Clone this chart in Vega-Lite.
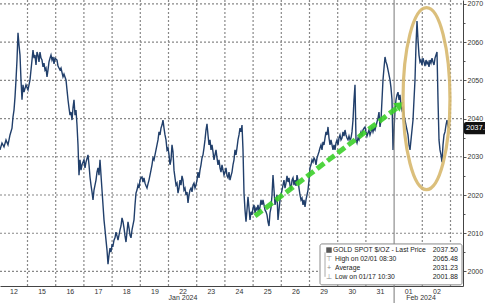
{
"$schema": "https://vega.github.io/schema/vega-lite/v6.json",
"width": 463, "height": 286, "autosize": "none", "padding": {"left": 0, "top": 0, "right": 22, "bottom": 17},
"background": "white",
"config": {"view": {"stroke": null}, "font": "Liberation Sans"},
"resolve": {"axis": {"x": "independent", "y": "independent"}},
"datasets": {
"price": [
{"b":0,"p":2031.8},{"b":2,"p":2033.6},{"b":4,"p":2032.6},{"b":6,"p":2034.4},{"b":8,"p":2033.1},{"b":10,"p":2035.7},{"b":12,"p":2037.5},{"b":13,"p":2040.4},{"b":14,"p":2042.2},{"b":15,"p":2045.6},{"b":16,"p":2050.1},{"b":17,"p":2055.3},{"b":18,"p":2062.4},{"b":19,"p":2059.2},{"b":20,"p":2056.6},{"b":21,"p":2050.1},{"b":22,"p":2044.9},{"b":23,"p":2048.8},{"b":24,"p":2046.9},{"b":26,"p":2048.8},{"b":28,"p":2047.5},{"b":30,"p":2050.1},{"b":31,"p":2052.7},{"b":32,"p":2055.3},{"b":33,"p":2057.9},{"b":34,"p":2055.8},{"b":35,"p":2056.6},{"b":36,"p":2054.0},{"b":37,"p":2057.4},{"b":38,"p":2056.6},{"b":39,"p":2054.8},{"b":40,"p":2057.4},{"b":41,"p":2055.8},{"b":42,"p":2055.3},{"b":43,"p":2053.5},{"b":44,"p":2054.5},{"b":45,"p":2052.7},{"b":46,"p":2053.2},{"b":47,"p":2050.9},{"b":48,"p":2052.7},{"b":49,"p":2054.8},{"b":50,"p":2055.8},{"b":51,"p":2056.6},{"b":52,"p":2055.3},{"b":53,"p":2056.1},{"b":54,"p":2054.3},{"b":55,"p":2055.8},{"b":57,"p":2055.3},{"b":58,"p":2053.7},{"b":60,"p":2052.7},{"b":61,"p":2053.2},{"b":63,"p":2050.9},{"b":64,"p":2051.6},{"b":66,"p":2050.1},{"b":67,"p":2047.5},{"b":68,"p":2044.9},{"b":69,"p":2042.8},{"b":70,"p":2040.9},{"b":71,"p":2041.7},{"b":72,"p":2039.6},{"b":73,"p":2042.8},{"b":74,"p":2044.9},{"b":75,"p":2040.9},{"b":76,"p":2042.2},{"b":77,"p":2038.3},{"b":78,"p":2033.1},{"b":79,"p":2025.2},{"b":80,"p":2029.2},{"b":81,"p":2026.5},{"b":82,"p":2027.9},{"b":84,"p":2029.2},{"b":85,"p":2027.1},{"b":86,"p":2028.6},{"b":88,"p":2030.5},{"b":89,"p":2027.9},{"b":90,"p":2024.7},{"b":91,"p":2022.6},{"b":92,"p":2020.8},{"b":93,"p":2018.7},{"b":94,"p":2021.3},{"b":95,"p":2022.6},{"b":96,"p":2023.9},{"b":97,"p":2026.0},{"b":98,"p":2027.1},{"b":99,"p":2025.2},{"b":100,"p":2029.2},{"b":101,"p":2025.2},{"b":102,"p":2021.3},{"b":103,"p":2017.4},{"b":104,"p":2013.5},{"b":105,"p":2010.9},{"b":106,"p":2008.2},{"b":107,"p":2005.6},{"b":108,"p":2001.9},{"b":109,"p":2004.3},{"b":110,"p":2006.1},{"b":111,"p":2005.1},{"b":112,"p":2006.9},{"b":113,"p":2006.7},{"b":114,"p":2008.2},{"b":115,"p":2008.8},{"b":116,"p":2010.3},{"b":117,"p":2009.3},{"b":118,"p":2008.2},{"b":119,"p":2009.5},{"b":120,"p":2010.9},{"b":121,"p":2011.9},{"b":122,"p":2014.0},{"b":123,"p":2013.0},{"b":124,"p":2011.4},{"b":125,"p":2009.3},{"b":126,"p":2007.7},{"b":127,"p":2010.3},{"b":128,"p":2013.0},{"b":129,"p":2011.4},{"b":130,"p":2009.5},{"b":131,"p":2008.8},{"b":132,"p":2010.9},{"b":133,"p":2012.2},{"b":134,"p":2013.5},{"b":135,"p":2017.4},{"b":136,"p":2020.5},{"b":137,"p":2021.3},{"b":138,"p":2022.6},{"b":139,"p":2021.8},{"b":140,"p":2023.9},{"b":141,"p":2024.5},{"b":142,"p":2024.7},{"b":143,"p":2023.4},{"b":144,"p":2024.5},{"b":145,"p":2023.1},{"b":146,"p":2022.4},{"b":147,"p":2021.8},{"b":148,"p":2022.9},{"b":149,"p":2023.9},{"b":150,"p":2025.2},{"b":151,"p":2026.5},{"b":152,"p":2027.9},{"b":153,"p":2029.7},{"b":154,"p":2029.2},{"b":155,"p":2030.5},{"b":156,"p":2031.8},{"b":157,"p":2033.1},{"b":158,"p":2034.4},{"b":159,"p":2036.5},{"b":160,"p":2035.7},{"b":161,"p":2037.5},{"b":162,"p":2038.3},{"b":163,"p":2039.6},{"b":164,"p":2037.5},{"b":165,"p":2035.7},{"b":166,"p":2034.4},{"b":167,"p":2031.8},{"b":168,"p":2032.3},{"b":169,"p":2030.5},{"b":170,"p":2027.9},{"b":171,"p":2029.2},{"b":172,"p":2033.1},{"b":173,"p":2031.3},{"b":174,"p":2026.5},{"b":175,"p":2024.5},{"b":176,"p":2022.6},{"b":177,"p":2023.1},{"b":178,"p":2020.5},{"b":179,"p":2021.8},{"b":180,"p":2023.9},{"b":181,"p":2022.6},{"b":182,"p":2025.0},{"b":183,"p":2023.9},{"b":184,"p":2021.3},{"b":185,"p":2021.8},{"b":186,"p":2020.0},{"b":187,"p":2020.8},{"b":188,"p":2017.9},{"b":189,"p":2020.0},{"b":190,"p":2021.3},{"b":191,"p":2021.8},{"b":192,"p":2020.8},{"b":193,"p":2022.6},{"b":194,"p":2023.1},{"b":195,"p":2021.8},{"b":196,"p":2022.6},{"b":197,"p":2023.9},{"b":198,"p":2026.0},{"b":199,"p":2024.5},{"b":200,"p":2026.5},{"b":201,"p":2027.9},{"b":202,"p":2029.7},{"b":203,"p":2030.5},{"b":204,"p":2032.3},{"b":205,"p":2034.4},{"b":206,"p":2037.0},{"b":207,"p":2038.6},{"b":208,"p":2035.7},{"b":209,"p":2033.1},{"b":210,"p":2034.4},{"b":211,"p":2031.8},{"b":212,"p":2033.1},{"b":213,"p":2031.3},{"b":214,"p":2029.2},{"b":215,"p":2030.5},{"b":216,"p":2031.8},{"b":217,"p":2029.7},{"b":218,"p":2027.9},{"b":219,"p":2029.2},{"b":220,"p":2027.1},{"b":221,"p":2026.0},{"b":222,"p":2027.9},{"b":223,"p":2026.5},{"b":224,"p":2025.2},{"b":225,"p":2026.0},{"b":226,"p":2027.1},{"b":227,"p":2025.0},{"b":228,"p":2024.5},{"b":229,"p":2026.0},{"b":230,"p":2023.9},{"b":231,"p":2025.0},{"b":232,"p":2026.0},{"b":233,"p":2027.9},{"b":234,"p":2029.2},{"b":235,"p":2031.8},{"b":236,"p":2030.5},{"b":237,"p":2032.3},{"b":238,"p":2034.4},{"b":239,"p":2035.7},{"b":240,"p":2037.5},{"b":241,"p":2036.5},{"b":242,"p":2038.3},{"b":243,"p":2031.8},{"b":244,"p":2020.5},{"b":245,"p":2016.1},{"b":246,"p":2013.0},{"b":247,"p":2016.1},{"b":248,"p":2019.5},{"b":249,"p":2016.6},{"b":250,"p":2013.5},{"b":251,"p":2015.6},{"b":252,"p":2014.8},{"b":253,"p":2016.6},{"b":254,"p":2017.4},{"b":255,"p":2015.3},{"b":256,"p":2016.6},{"b":257,"p":2016.1},{"b":258,"p":2017.4},{"b":259,"p":2015.6},{"b":260,"p":2016.9},{"b":261,"p":2018.7},{"b":262,"p":2017.4},{"b":263,"p":2018.7},{"b":264,"p":2017.4},{"b":265,"p":2016.1},{"b":266,"p":2015.6},{"b":267,"p":2014.8},{"b":268,"p":2013.0},{"b":269,"p":2011.9},{"b":270,"p":2015.3},{"b":271,"p":2016.6},{"b":272,"p":2020.0},{"b":273,"p":2025.2},{"b":274,"p":2021.3},{"b":275,"p":2017.4},{"b":276,"p":2018.7},{"b":277,"p":2020.0},{"b":278,"p":2013.5},{"b":279,"p":2016.1},{"b":280,"p":2018.7},{"b":281,"p":2020.0},{"b":282,"p":2021.3},{"b":283,"p":2022.6},{"b":284,"p":2023.9},{"b":285,"p":2021.8},{"b":286,"p":2023.1},{"b":287,"p":2025.0},{"b":288,"p":2023.4},{"b":289,"p":2024.5},{"b":290,"p":2022.6},{"b":291,"p":2021.3},{"b":292,"p":2023.9},{"b":293,"p":2024.5},{"b":294,"p":2022.6},{"b":295,"p":2023.9},{"b":296,"p":2022.4},{"b":297,"p":2025.2},{"b":298,"p":2023.9},{"b":299,"p":2021.8},{"b":300,"p":2020.0},{"b":301,"p":2018.7},{"b":302,"p":2019.2},{"b":303,"p":2017.4},{"b":304,"p":2018.7},{"b":305,"p":2016.9},{"b":306,"p":2018.7},{"b":307,"p":2020.0},{"b":308,"p":2021.3},{"b":309,"p":2023.9},{"b":310,"p":2027.1},{"b":311,"p":2027.9},{"b":312,"p":2029.2},{"b":313,"p":2028.6},{"b":314,"p":2029.7},{"b":315,"p":2029.2},{"b":316,"p":2027.9},{"b":317,"p":2029.7},{"b":318,"p":2030.5},{"b":319,"p":2031.3},{"b":320,"p":2032.3},{"b":321,"p":2033.1},{"b":322,"p":2031.8},{"b":323,"p":2033.9},{"b":324,"p":2033.1},{"b":325,"p":2034.9},{"b":326,"p":2036.5},{"b":327,"p":2035.7},{"b":328,"p":2037.8},{"b":329,"p":2034.9},{"b":330,"p":2033.1},{"b":331,"p":2034.4},{"b":332,"p":2033.1},{"b":333,"p":2031.8},{"b":334,"p":2033.1},{"b":335,"p":2031.8},{"b":336,"p":2033.6},{"b":337,"p":2034.4},{"b":338,"p":2033.1},{"b":339,"p":2034.9},{"b":340,"p":2035.7},{"b":341,"p":2034.4},{"b":342,"p":2034.9},{"b":343,"p":2036.5},{"b":344,"p":2035.4},{"b":345,"p":2037.0},{"b":346,"p":2035.7},{"b":347,"p":2034.9},{"b":348,"p":2034.4},{"b":349,"p":2035.4},{"b":350,"p":2034.4},{"b":351,"p":2034.9},{"b":352,"p":2036.5},{"b":353,"p":2039.6},{"b":354,"p":2044.9},{"b":355,"p":2048.8},{"b":356,"p":2034.4},{"b":357,"p":2033.6},{"b":358,"p":2034.9},{"b":359,"p":2034.4},{"b":360,"p":2035.7},{"b":361,"p":2036.5},{"b":362,"p":2035.4},{"b":363,"p":2037.0},{"b":364,"p":2037.5},{"b":365,"p":2037.8},{"b":366,"p":2036.5},{"b":367,"p":2035.4},{"b":368,"p":2036.2},{"b":369,"p":2037.0},{"b":370,"p":2035.7},{"b":371,"p":2036.5},{"b":372,"p":2037.5},{"b":373,"p":2036.5},{"b":374,"p":2037.5},{"b":375,"p":2037.0},{"b":376,"p":2038.1},{"b":377,"p":2039.1},{"b":378,"p":2040.1},{"b":379,"p":2041.7},{"b":380,"p":2037.8},{"b":381,"p":2039.6},{"b":382,"p":2044.9},{"b":383,"p":2050.1},{"b":384,"p":2053.2},{"b":385,"p":2056.1},{"b":386,"p":2054.8},{"b":387,"p":2054.0},{"b":388,"p":2052.7},{"b":389,"p":2051.4},{"b":390,"p":2050.1},{"b":391,"p":2048.0},{"b":392,"p":2044.9},{"b":393,"p":2031.8},{"b":394,"p":2037.0},{"b":395,"p":2042.2},{"b":396,"p":2044.9},{"b":397,"p":2046.2},{"b":398,"p":2046.9},{"b":399,"p":2044.9},{"b":400,"p":2046.2},{"b":401,"p":2043.5},{"b":402,"p":2042.2},{"b":403,"p":2042.8},{"b":404,"p":2040.9},{"b":405,"p":2039.6},{"b":406,"p":2038.3},{"b":407,"p":2037.0},{"b":408,"p":2035.7},{"b":409,"p":2033.1},{"b":410,"p":2031.8},{"b":411,"p":2034.4},{"b":412,"p":2037.0},{"b":413,"p":2039.6},{"b":414,"p":2044.9},{"b":415,"p":2050.1},{"b":416,"p":2059.2},{"b":417,"p":2065.5},{"b":418,"p":2060.5},{"b":419,"p":2056.6},{"b":420,"p":2054.8},{"b":421,"p":2055.3},{"b":422,"p":2054.0},{"b":423,"p":2055.8},{"b":424,"p":2054.8},{"b":425,"p":2053.7},{"b":426,"p":2055.3},{"b":427,"p":2054.3},{"b":428,"p":2054.8},{"b":429,"p":2053.5},{"b":430,"p":2055.3},{"b":431,"p":2054.5},{"b":432,"p":2055.8},{"b":433,"p":2054.8},{"b":434,"p":2054.0},{"b":435,"p":2055.8},{"b":436,"p":2056.6},{"b":437,"p":2057.4},{"b":438,"p":2044.9},{"b":439,"p":2034.4},{"b":440,"p":2031.8},{"b":441,"p":2030.5},{"b":442,"p":2028.6},{"b":443,"p":2033.1},{"b":444,"p":2035.7},{"b":445,"p":2036.5},{"b":446,"p":2038.3},{"b":447,"p":2039.6},{"b":448,"p":2038.1},{"b":449,"p":2037.5}
]
},
"layer": [
{
"data": {"values": [{"b":27.5},{"b":55.7},{"b":83.9},{"b":112.1},{"b":140.3},{"b":168.5},{"b":196.7},{"b":224.9},{"b":253.1},{"b":281.3},{"b":309.5},{"b":337.7},{"b":365.9},{"b":422.3},{"b":450.5}]},
"mark": {"type": "rule", "color": "#888888", "strokeWidth": 1.2, "strokeDash": [2, 2]},
"encoding": {"x": {"field": "b", "type": "quantitative", "axis": null}, "y": {"datum": 1996.2, "axis": null}, "y2": {"datum": 2071}}
},
{
"data": {"values": [{"p":2000},{"p":2010},{"p":2020},{"p":2030},{"p":2040},{"p":2050},{"p":2060},{"p":2070}]},
"mark": {"type": "rule", "color": "#888888", "strokeWidth": 1.2, "strokeDash": [2, 2]},
"encoding": {"y": {"field": "p", "type": "quantitative", "axis": null}, "x": {"datum": 0, "axis": null}, "x2": {"datum": 463}}
},
{
"data": {"name": "price"},
"mark": {"type": "line", "color": "#213f6b", "strokeWidth": 1.4},
"encoding": {
"x": {"field": "b", "type": "quantitative",
"scale": {"domain": [0, 463], "nice": false, "zero": false},
"axis": {"title": null, "orient": "bottom",
"values": [27.5, 55.7, 83.9, 112.1, 140.3, 168.5, 196.7, 224.9, 253.1, 281.3, 309.5, 337.7, 365.9, 394.1, 422.3, 450.5],
"labelExpr": "['12','15','16','17','18','19','22','23','24','25','26','29','30','31','01','02'][round((datum.value-27.5)/28.2)]",
"labelOffset": -14.1, "labelFlush": false, "labelOverlap": false,
"labelFontSize": 7, "labelColor": "#333", "labelPadding": 1,
"ticks": false, "grid": false,
"domainColor": "#444", "domainWidth": 1}},
"y": {"field": "p", "type": "quantitative",
"scale": {"domain": [1996.2, 2071], "nice": false, "zero": false},
"axis": {"title": null, "orient": "right",
"values": [2000, 2005, 2010, 2015, 2020, 2025, 2030, 2035, 2040, 2045, 2050, 2055, 2060, 2065, 2070],
"labelExpr": "datum.value % 10 === 0 ? datum.label : ''",
"format": "d", "labelFlush": false, "labelOverlap": false,
"labelFontSize": 7, "labelColor": "#333", "labelPadding": 1,
"tickColor": "#555",
"tickSize": {"condition": {"test": "datum.value % 10 === 0", "value": 3}, "value": 2},
"grid": false,
"domainColor": "#444", "domainWidth": 1}}
}
},
{
"data": {"values": [{"b": 394.1}]},
"mark": {"type": "rule", "color": "#777", "strokeWidth": 1, "clip": false},
"encoding": {"x": {"field": "b", "type": "quantitative", "axis": null}, "y": {"datum": 1991.3, "axis": null}, "y2": {"datum": 2071}}
},
{
"data": {"values": [{"b": 255, "p": 2014.5}, {"b": 397, "p": 2042.8}]},
"mark": {"type": "line", "color": "#3ccf2a", "strokeWidth": 5, "strokeDash": [9, 4], "strokeCap": "butt", "opacity": 0.9},
"encoding": {"x": {"field": "b", "type": "quantitative", "axis": null}, "y": {"field": "p", "type": "quantitative", "axis": null}}
},
{
"data": {"values": [{"b": 400, "p": 2043.6}]},
"mark": {"type": "point", "shape": "triangle-right", "filled": true, "color": "#3ccf2a", "size": 110, "angle": 322.6, "opacity": 0.95},
"encoding": {"x": {"field": "b", "type": "quantitative", "axis": null}, "y": {"field": "p", "type": "quantitative", "axis": null}}
},
{
"data": {"values": [{"b": 426.5, "p": 2045.2}]},
"mark": {"type": "point", "shape": "M -0.258 0 A 0.258 1 0 1 1 0.258 0 A 0.258 1 0 1 1 -0.258 0 Z",
"filled": false, "stroke": "#d8b96e", "strokeWidth": 3.2, "size": 33124, "opacity": 0.9},
"encoding": {"x": {"field": "b", "type": "quantitative", "axis": null}, "y": {"field": "p", "type": "quantitative", "axis": null}}
},
{
"data": {"values": [{"k": "legend"}]},
"mark": {"type": "rect", "fill": "white", "stroke": "#8a8a8a", "strokeWidth": 1, "cornerRadius": 2},
"encoding": {"x": {"datum": 320, "axis": null}, "x2": {"datum": 462}, "y": {"datum": 2007.2, "axis": null}, "y2": {"datum": 1996.5}}
},
{
"data": {"values": [{"k": "legend"}]},
"mark": {"type": "rule", "color": "#aaaaaa", "strokeWidth": 1},
"encoding": {"x": {"datum": 325, "axis": null}, "y": {"datum": 2005, "axis": null}, "y2": {"datum": 1998.6}}
},
{
"data": {"values": [{"k": "legend"}]},
"mark": {"type": "point", "shape": "square", "filled": true, "color": "#111", "size": 30},
"encoding": {"x": {"datum": 329, "axis": null}, "y": {"datum": 2005.6, "axis": null}}
},
{
"data": {"values": [{"k": "legend"}]},
"mark": {"type": "text", "text": ["⊤", "+", "⊥"], "lineHeight": 9, "fontSize": 7, "color": "#888", "align": "center", "baseline": "middle"},
"encoding": {"x": {"datum": 329, "axis": null}, "y": {"datum": 2003.3, "axis": null}}
},
{
"data": {"values": [{"k": "legend"}]},
"mark": {"type": "text", "text": "GOLD SPOT $/OZ - Last Price", "fontSize": 6.8, "color": "#222", "align": "left", "baseline": "middle"},
"encoding": {"x": {"datum": 333, "axis": null}, "y": {"datum": 2005.6, "axis": null}}
},
{
"data": {"values": [{"k": "legend"}]},
"mark": {"type": "text", "text": ["High on 02/01 08:30", "Average", "Low on 01/17 10:30"], "lineHeight": 9, "fontSize": 6.8, "color": "#222", "align": "left", "baseline": "middle"},
"encoding": {"x": {"datum": 335, "axis": null}, "y": {"datum": 2003.3, "axis": null}}
},
{
"data": {"values": [{"k": "legend"}]},
"mark": {"type": "text", "text": ["2037.50", "2065.48", "2031.23", "2001.88"], "lineHeight": 9, "fontSize": 7, "color": "#222", "align": "right", "baseline": "middle"},
"encoding": {"x": {"datum": 458, "axis": null}, "y": {"datum": 2005.6, "axis": null}}
},
{
"data": {"values": [{"k": "last"}]},
"mark": {"type": "rect", "fill": "#111", "cornerRadius": 2, "clip": false},
"encoding": {"x": {"datum": 464, "axis": null}, "x2": {"datum": 492}, "y": {"datum": 2039.1, "axis": null}, "y2": {"datum": 2035.9}}
},
{
"data": {"values": [{"k": "last"}]},
"mark": {"type": "text", "text": "2037.50", "fontSize": 7.5, "color": "white", "align": "left", "baseline": "middle", "clip": false},
"encoding": {"x": {"datum": 466, "axis": null}, "y": {"datum": 2037.5, "axis": null}}
},
{
"data": {"values": [{"b": 183, "m": "Jan 2024"}, {"b": 421, "m": "Feb 2024"}]},
"mark": {"type": "text", "fontSize": 7, "color": "#333", "align": "center", "baseline": "middle", "clip": false},
"encoding": {"x": {"field": "b", "type": "quantitative", "axis": null}, "y": {"datum": 1993.1, "axis": null}, "text": {"field": "m"}}
}
]
}
